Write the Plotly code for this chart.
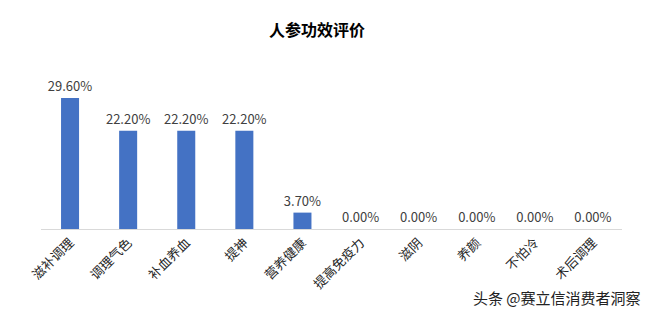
import plotly.graph_objects as go

categories = ["滋补调理", "调理气色", "补血养血", "提神", "营养健康", "提高免疫力", "滋阴", "养颜", "不怕冷", "术后调理"]
values = [29.6, 22.2, 22.2, 22.2, 3.7, 0.0, 0.0, 0.0, 0.0, 0.0]
labels = [f"{v:.2f}%" for v in values]

FONT = "Noto Sans CJK SC, Open Sans, sans-serif"

fig = go.Figure(go.Bar(
    x=categories, y=values, text=labels, textposition="outside",
    constraintext="none",
    textfont=dict(size=13, color="#404040", family=FONT),
    marker=dict(color="#4472C4", line=dict(width=0)),
    width=0.31, cliponaxis=False,
))

fig.update_layout(
    width=648, height=316,
    margin=dict(l=41, r=26, t=74, b=87),
    paper_bgcolor="white", plot_bgcolor="white",
    showlegend=False,
    title=dict(text="<b>人参功效评价</b>", x=317 / 648, xref="container", xanchor="center",
               y=1 - 30 / 316, yanchor="middle",
               font=dict(size=16, color="#000000", family=FONT)),
    xaxis=dict(tickangle=-45, tickfont=dict(size=13, color="#262626", family=FONT),
               showline=True, linecolor="#D9D9D9", linewidth=1, ticks="", showgrid=False),
    yaxis=dict(range=[0, 35], visible=False, showgrid=False),
    annotations=[dict(text="头条 @赛立信消费者洞察", xref="paper", yref="paper",
                      x=(643 - 41) / 581, y=-(297 - 229) / 155, xanchor="right", yanchor="middle",
                      showarrow=False, font=dict(size=15, color="#222222", family=FONT))],
)

fig.write_html("out.html")
